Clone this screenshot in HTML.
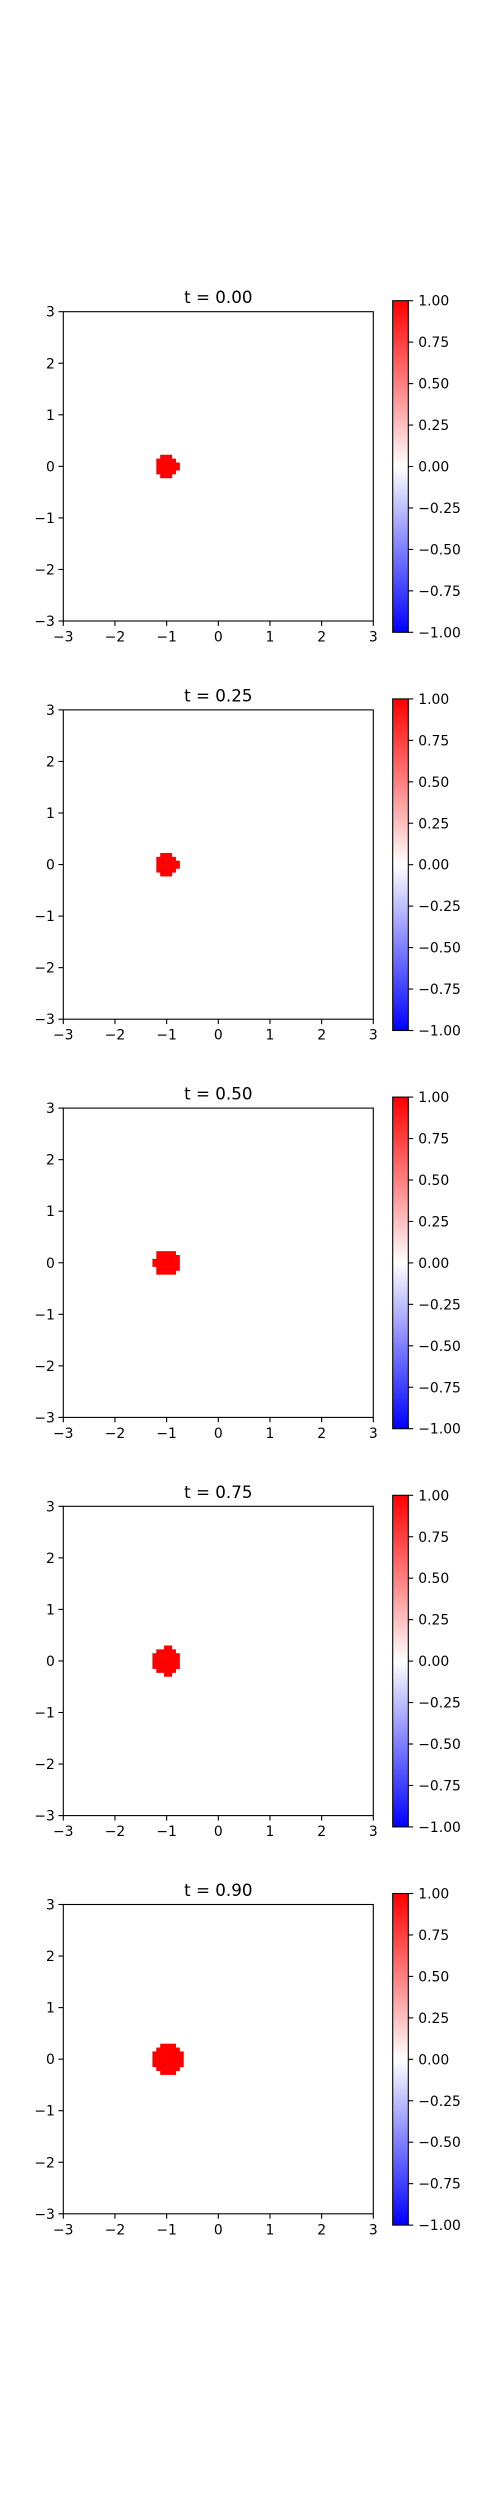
<!DOCTYPE html>
<html><head><meta charset="utf-8"><style>
html,body{margin:0;padding:0;background:#fff;}
svg{display:block;font-family:"DejaVu Sans","Liberation Sans",sans-serif;}
</style></head>
<body>
<svg id="fig" width="500" height="2500" viewBox="0 0 500 2500" xmlns="http://www.w3.org/2000/svg">
<defs>
<linearGradient id="bwr" x1="0" y1="1" x2="0" y2="0">
<stop offset="0" stop-color="#0000ff"/><stop offset="0.5" stop-color="#ffffff"/><stop offset="1" stop-color="#ff0000"/>
</linearGradient>
</defs>
</svg>
<script>
const times = [0.00, 0.25, 0.50, 0.75, 0.90];
const blobCx = [-1.0, -1.0, -1.0, -1.0, -0.98];
const blobCy = [0.0, 0.0, 0.0, 0.0, 0.0];
const blobR = [0.22, 0.23, 0.25, 0.27, 0.30];
const axisTicks = [-3, -2, -1, 0, 1, 2, 3];
const cbarTicks = [1.0, 0.75, 0.5, 0.25, 0.0, -0.25, -0.5, -0.75, -1.0];
const gridN = 80;

const NS = "http://www.w3.org/2000/svg";
const fig = document.getElementById('fig');
function mk(tag, attrs, parent) {
  const e = document.createElementNS(NS, tag);
  for (const k in attrs) e.setAttribute(k, attrs[k]);
  parent.appendChild(e);
  return e;
}
function fmt(v, d) { const s = Math.abs(v).toFixed(d); return v < 0 ? '\u2212' + s : s; }

const AX_L = 63.3, AX_R = 373.3, AX_T0 = 311.7, AX_H = 309.3, STEP = 398.2;
const CB_L = 392.7, CB_W = 15.6, CB_T0 = 300.7, CB_H = 331.6;

times.forEach((t, i) => {
  const off = STEP * i;
  const top = AX_T0 + off, bot = top + AX_H;
  const sx = v => AX_L + (v + 3) / 6 * (AX_R - AX_L);
  const sy = v => bot - (v + 3) / 6 * AX_H;
  const g = mk('g', {}, fig);
  
  

  const title = mk('text', {x: (AX_L + AX_R) / 2, y: top - 8.5, 'text-anchor': 'middle', 'font-size': 16.7, fill: '#000'}, g);
  title.textContent = 't = ' + t.toFixed(2);
  
  

  // heatmap cells (pixelated blob)
  const cell = 6 / gridN;
  const hm = mk('g', {}, g);
  
  
  for (let a = 0; a < gridN; a++) {
    for (let b = 0; b < gridN; b++) {
      const x0 = -3 + a * cell, y0 = -3 + b * cell;
      const xc = x0 + cell / 2, yc = y0 + cell / 2;
      if ((xc - blobCx[i]) ** 2 + (yc - blobCy[i]) ** 2 <= blobR[i] ** 2) {
        const r = mk('rect', {x: sx(x0), y: sy(y0 + cell), width: sx(x0 + cell) - sx(x0) + 0.3, height: sy(y0) - sy(y0 + cell) + 0.3, fill: '#ff0000'}, hm);
        
        
      }
    }
  }

  const frame = mk('rect', {x: AX_L, y: top, width: AX_R - AX_L, height: AX_H, fill: 'none', stroke: '#000', 'stroke-width': 1.1}, g);
  
  

  axisTicks.forEach(v => {
    const x = sx(v);
    mk('line', {x1: x, x2: x, y1: bot, y2: bot + 4.9, stroke: '#000', 'stroke-width': 1.1}, g);
    const tx = mk('text', {x: x, y: bot + 20.5, 'text-anchor': 'middle', 'font-size': 13.9, fill: '#000'}, g);
    tx.textContent = v < 0 ? '\u2212' + Math.abs(v) : String(v);
    
    
    const y = sy(v);
    mk('line', {x1: AX_L - 4.9, x2: AX_L, y1: y, y2: y, stroke: '#000', 'stroke-width': 1.1}, g);
    const ty = mk('text', {x: AX_L - 8.5, y: y + 5, 'text-anchor': 'end', 'font-size': 13.9, fill: '#000'}, g);
    ty.textContent = v < 0 ? '\u2212' + Math.abs(v) : String(v);
    
    
  });

  const cbTop = CB_T0 + off;
  const cb = mk('rect', {x: CB_L, y: cbTop, width: CB_W, height: CB_H, fill: 'url(#bwr)', stroke: '#000', 'stroke-width': 1.1}, g);
  
  
  cbarTicks.forEach(v => {
    const y = cbTop + (1 - v) / 2 * CB_H;
    mk('line', {x1: CB_L + CB_W, x2: CB_L + CB_W + 4.9, y1: y, y2: y, stroke: '#000', 'stroke-width': 1.1}, g);
    const tl = mk('text', {x: CB_L + CB_W + 10, y: y + 5, 'text-anchor': 'start', 'font-size': 13.9, fill: '#000'}, g);
    tl.textContent = fmt(v, 2);
    
    
  });
});
</script>
</body></html>
